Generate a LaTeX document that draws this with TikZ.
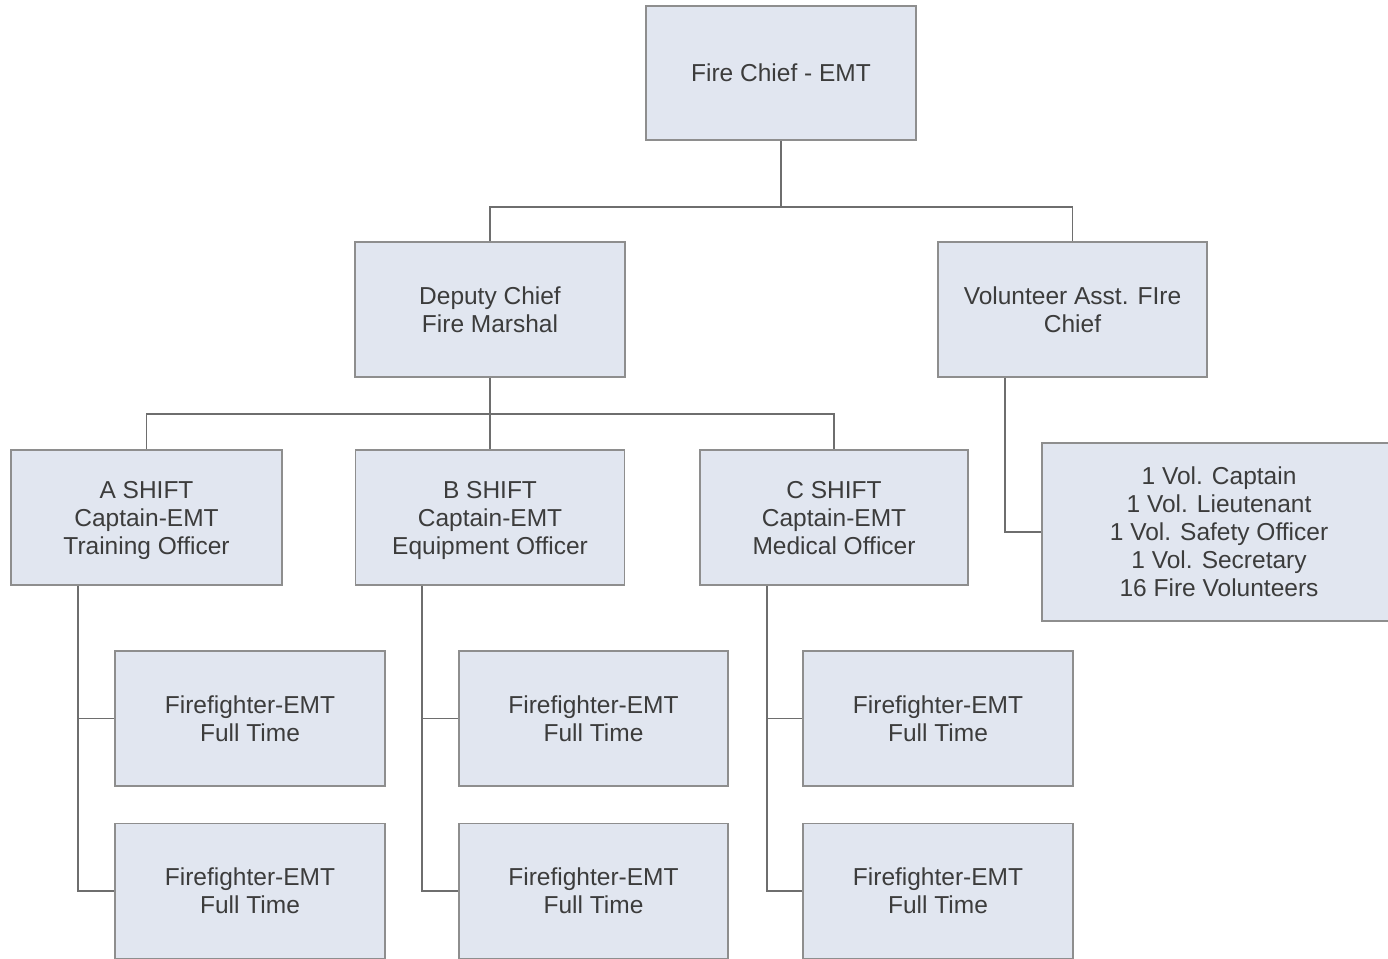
\documentclass[tikz,border=0pt]{standalone}
\usepackage{fontspec}
\setmainfont{Liberation Sans}
\usetikzlibrary{calc}
\definecolor{boxfill}{HTML}{E1E6F0}
\definecolor{boxline}{HTML}{8E8E8E}
\definecolor{txt}{HTML}{3C3C3C}
\definecolor{conn}{HTML}{6E6E6E}
\newcommand\tstr{\rule{0pt}{24pt}}
\newcommand\bstr{\rule[-6.5pt]{0pt}{6.5pt}}
\tikzset{
  box/.style={draw=boxline, fill=boxfill, line width=1.6pt, inner sep=0pt,
    align=center, text=txt, font=\fontsize{24.5}{28}\selectfont},
  conn/.style={draw=conn, line width=1.8pt}
}
\begin{document}
\begin{tikzpicture}[x=1pt,y=-1pt]
\useasboundingbox (0,0) rectangle (1388,958);
\node[box, minimum width=270pt, minimum height=134pt] (fc) at (781,73) {\tstr Fire Chief - EMT\bstr};
\node[box, minimum width=270pt, minimum height=135pt] (dep) at (490,309.5) {\tstr Deputy Chief\\Fire Marshal\bstr};
\node[box, minimum width=269pt, minimum height=135pt] (vol) at (1072.5,309.5) {\tstr Volunteer Asst. FIre\\Chief\bstr};
\node[box, minimum width=271pt, minimum height=135pt] (a) at (146.5,517.5) {\tstr A SHIFT\\Captain-EMT\\Training Officer\bstr};
\node[box, minimum width=269pt, minimum height=135pt] (b) at (490,517.5) {\tstr B SHIFT\\Captain-EMT\\Equipment Officer\bstr};
\node[box, minimum width=268pt, minimum height=135pt] (c) at (834,517.5) {\tstr C SHIFT\\Captain-EMT\\Medical Officer\bstr};
\node[box, minimum width=354pt, minimum height=178pt] (vl) at (1219,532) {\tstr 1 Vol. Captain\\1 Vol. Lieutenant\\1 Vol. Safety Officer\\1 Vol. Secretary\\16 Fire Volunteers\bstr};
\node[box, minimum width=270pt, minimum height=135pt] (a1) at (250,718.5) {\tstr Firefighter-EMT\\Full Time\bstr};
\node[box, minimum width=270pt, minimum height=135pt] (a2) at (250,891) {\tstr Firefighter-EMT\\Full Time\bstr};
\node[box, minimum width=269pt, minimum height=135pt] (b1) at (593.5,718.5) {\tstr Firefighter-EMT\\Full Time\bstr};
\node[box, minimum width=269pt, minimum height=135pt] (b2) at (593.5,891) {\tstr Firefighter-EMT\\Full Time\bstr};
\node[box, minimum width=270pt, minimum height=135pt] (c1) at (938,718.5) {\tstr Firefighter-EMT\\Full Time\bstr};
\node[box, minimum width=270pt, minimum height=135pt] (c2) at (938,891) {\tstr Firefighter-EMT\\Full Time\bstr};
% connectors
\draw[conn] (fc.south) -- ++(0,66) coordinate (j1) -| (dep.north);
\draw[conn] (j1) -| (vol.north);
\draw[conn] (dep.south) -- ++(0,36) coordinate (j2) -| (a.north);
\draw[conn] (j2) -- (b.north);
\draw[conn] (j2) -| (c.north);
\draw[conn] ($(vol.south west)!0.25!(vol.south east)$) |- (vl.west);
\draw[conn] ($(a.south west)!0.25!(a.south east)$) coordinate (ja) |- (a2.west);
\draw[conn] (ja |- a1.west) -- (a1.west);
\draw[conn] ($(b.south west)!0.25!(b.south east)$) coordinate (jb) |- (b2.west);
\draw[conn] (jb |- b1.west) -- (b1.west);
\draw[conn] ($(c.south west)!0.25!(c.south east)$) coordinate (jc) |- (c2.west);
\draw[conn] (jc |- c1.west) -- (c1.west);
\end{tikzpicture}
\end{document}
